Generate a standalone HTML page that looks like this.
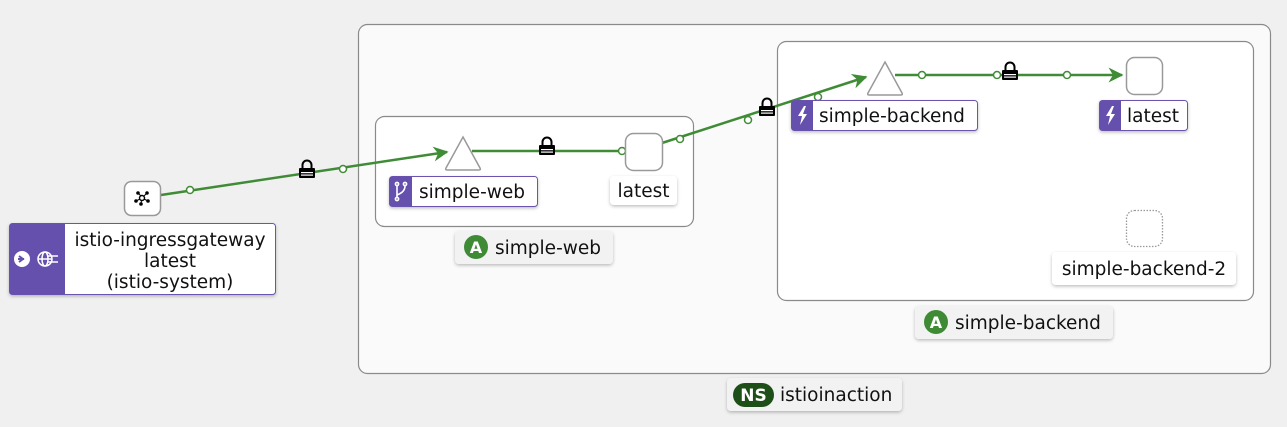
<!DOCTYPE html>
<html><head><style>
html,body{margin:0;padding:0;background:#f0f0f0;}
svg{display:block;font-family:"DejaVu Sans","Liberation Sans",sans-serif;}
</style></head><body>
<svg width="1287" height="427" viewBox="0 0 1287 427" xmlns="http://www.w3.org/2000/svg">
<defs>
<filter id="sh" x="-10%" y="-20%" width="120%" height="150%"><feDropShadow dx="0" dy="1.5" stdDeviation="1.5" flood-color="#000" flood-opacity="0.25"/></filter>
<marker id="ar" viewBox="0 0 10 10" refX="9" refY="5" markerWidth="6" markerHeight="6" orient="auto"><path d="M0,0 L10,5 L0,10 L3,5 z" fill="#3f8b36"/></marker>
</defs>
<rect width="1287" height="427" fill="#f0f0f0"/>
<rect x="358.5" y="24.5" width="912" height="349" rx="9" fill="#fafafa" stroke="#8a8a8a" stroke-width="1.2"/>
<rect x="727" y="378" width="175" height="33" rx="4" fill="#f2f2f2" filter="url(#sh)"/>
<rect x="733" y="383" width="41" height="24" rx="12" fill="#1e4f18"/>
<text x="753.5" y="401" font-size="17" font-weight="bold" fill="#fff" text-anchor="middle">NS</text>
<text x="780" y="401" font-size="18.5" fill="#111">istioinaction</text>
<rect x="375.5" y="116.5" width="318" height="110" rx="9" fill="#fff" stroke="#8a8a8a" stroke-width="1.2"/>
<rect x="455" y="231" width="158" height="33" rx="4" fill="#f2f2f2" filter="url(#sh)"/>
<circle cx="476" cy="247" r="12" fill="#3e8a35"/>
<text x="476" y="253" font-size="16" font-weight="bold" fill="#fff" text-anchor="middle">A</text>
<text x="495" y="254" font-size="18.5" fill="#111">simple-web</text>
<rect x="777.5" y="41.5" width="476" height="259" rx="9" fill="#fff" stroke="#8a8a8a" stroke-width="1.2"/>
<rect x="915" y="306" width="198" height="33" rx="4" fill="#f2f2f2" filter="url(#sh)"/>
<circle cx="936" cy="322" r="12" fill="#3e8a35"/>
<text x="936" y="328" font-size="16" font-weight="bold" fill="#fff" text-anchor="middle">A</text>
<text x="955" y="329" font-size="18.5" fill="#111">simple-backend</text>
<g stroke="#3f8b36" stroke-width="2.5" fill="none">
<line x1="161" y1="195" x2="447" y2="152" marker-end="url(#ar)"/>
<line x1="472" y1="151" x2="619" y2="151"/>
<line x1="662" y1="143" x2="866" y2="77" marker-end="url(#ar)"/>
<line x1="895" y1="75" x2="1122" y2="75" marker-end="url(#ar)"/>
</g>
<g fill="#fff" stroke="#3f8b36" stroke-width="1.5">
<circle cx="190" cy="190" r="3.5"/><circle cx="343" cy="169" r="3.5"/>
<circle cx="622" cy="151" r="3.5"/>
<circle cx="680" cy="139" r="3.5"/><circle cx="748" cy="120" r="3.5"/><circle cx="818" cy="97" r="3.5"/>
<circle cx="922" cy="75" r="3.5"/><circle cx="997" cy="75" r="3.5"/><circle cx="1067" cy="75" r="3.5"/>
</g>
<g fill="#000">
<g transform="translate(307,172)"><rect x="-8" y="-4" width="16" height="10" rx="1"/><path d="M-4.5,-4 v-3 a4.5,4.5 0 0 1 9,0 v3" stroke="#000" stroke-width="2" fill="none"/><rect x="-6" y="0" width="12" height="1.2" fill="#fff"/><rect x="-6" y="2.5" width="12" height="1.2" fill="#fff"/></g>
<g transform="translate(547,149)"><rect x="-8" y="-4" width="16" height="10" rx="1"/><path d="M-4.5,-4 v-3 a4.5,4.5 0 0 1 9,0 v3" stroke="#000" stroke-width="2" fill="none"/><rect x="-6" y="0" width="12" height="1.2" fill="#fff"/><rect x="-6" y="2.5" width="12" height="1.2" fill="#fff"/></g>
<g transform="translate(767,110)"><rect x="-8" y="-4" width="16" height="10" rx="1"/><path d="M-4.5,-4 v-3 a4.5,4.5 0 0 1 9,0 v3" stroke="#000" stroke-width="2" fill="none"/><rect x="-6" y="0" width="12" height="1.2" fill="#fff"/><rect x="-6" y="2.5" width="12" height="1.2" fill="#fff"/></g>
<g transform="translate(1010,74)"><rect x="-8" y="-4" width="16" height="10" rx="1"/><path d="M-4.5,-4 v-3 a4.5,4.5 0 0 1 9,0 v3" stroke="#000" stroke-width="2" fill="none"/><rect x="-6" y="0" width="12" height="1.2" fill="#fff"/><rect x="-6" y="2.5" width="12" height="1.2" fill="#fff"/></g>
</g>
<rect x="124.5" y="181.5" width="36" height="34" rx="7" fill="#fff" stroke="#999" stroke-width="1.5"/>
<g fill="#000" stroke="#000" stroke-width="1"><circle cx="142" cy="198" r="2.5" fill="none" stroke-width="1.4"/><circle cx="138" cy="193" r="1.3"/><circle cx="147" cy="193" r="1.3"/><circle cx="136" cy="201" r="1.3"/><circle cx="148" cy="201" r="1.3"/><circle cx="141" cy="204" r="1.3"/><line x1="138" y1="193" x2="141" y2="196"/><line x1="147" y1="193" x2="144" y2="196"/><line x1="136" y1="201" x2="140" y2="199"/><line x1="148" y1="201" x2="144" y2="199"/><line x1="141" y1="204" x2="141.5" y2="200"/></g>
<g filter="url(#sh)"><rect x="9.5" y="223.5" width="266" height="71" rx="3" fill="#fff" stroke="#6c52b0"/></g>
<path d="M12.5,223.5 h52.5 v71 h-52.5 a3,3 0 0 1 -3,-3 v-65 a3,3 0 0 1 3,-3z" fill="#6550ad"/>
<circle cx="22" cy="259" r="8" fill="#fff"/><path d="M19,256 l4,3 l-4,3 M18,259 h6" stroke="#6550ad" stroke-width="2" fill="none"/>
<g stroke="#fff" stroke-width="1.5" fill="none"><circle cx="45" cy="259" r="7"/><ellipse cx="45" cy="259" rx="3" ry="7"/><line x1="38" y1="259" x2="52" y2="259"/><line x1="48" y1="256" x2="58" y2="256"/><line x1="48" y1="262" x2="58" y2="262"/></g>
<g font-size="18.5" fill="#111" text-anchor="middle"><text x="170" y="246">istio-ingressgateway</text><text x="170" y="267">latest</text><text x="170" y="288">(istio-system)</text></g>
<path d="M463,137 L480,168 Q481,170 479,170 L447,170 Q445,170 446,168 Z" fill="#fff" stroke="#999" stroke-width="1.5"/>
<g filter="url(#sh)"><rect x="389.5" y="176.5" width="148" height="30" rx="3" fill="#fff" stroke="#6c52b0"/></g>
<path d="M392.5,176.5 h19.5 v30 h-19.5 a3,3 0 0 1 -3,-3 v-24 a3,3 0 0 1 3,-3z" fill="#6550ad"/>
<g stroke="#fff" stroke-width="1.6" fill="none"><circle cx="397" cy="184" r="1.6"/><circle cx="405" cy="184" r="1.6"/><circle cx="397" cy="199" r="1.6"/><line x1="397" y1="186" x2="397" y2="197"/><path d="M405,186 q0,6 -8,9"/></g>
<text x="419" y="198" font-size="18.5" fill="#111">simple-web</text>
<rect x="625.5" y="133.5" width="37" height="37" rx="8" fill="#fff" stroke="#999" stroke-width="1.5"/>
<rect x="610" y="176" width="67" height="29" rx="4" fill="#fff" filter="url(#sh)"/>
<text x="643.5" y="197" font-size="18.5" fill="#111" text-anchor="middle">latest</text>
<path d="M885,62 L902,93 Q903,95 901,95 L869,95 Q867,95 868,93 Z" fill="#fff" stroke="#999" stroke-width="1.5"/>
<g filter="url(#sh)"><rect x="791.5" y="100.5" width="186" height="30" rx="3" fill="#fff" stroke="#6c52b0"/></g>
<path d="M794.5,100.5 h18.5 v30 h-18.5 a3,3 0 0 1 -3,-3 v-24 a3,3 0 0 1 3,-3z" fill="#6550ad"/>
<path d="M804,106 l-6,10 h4 l-2,9 l7,-11 h-4 l3,-8z" fill="#fff"/>
<text x="819" y="122" font-size="18.5" fill="#111">simple-backend</text>
<rect x="1126.5" y="57.5" width="36" height="37" rx="8" fill="#fff" stroke="#999" stroke-width="1.5"/>
<g filter="url(#sh)"><rect x="1099.5" y="100.5" width="88" height="30" rx="3" fill="#fff" stroke="#6c52b0"/></g>
<path d="M1102.5,100.5 h18.5 v30 h-18.5 a3,3 0 0 1 -3,-3 v-24 a3,3 0 0 1 3,-3z" fill="#6550ad"/>
<path d="M1112,106 l-6,10 h4 l-2,9 l7,-11 h-4 l3,-8z" fill="#fff"/>
<text x="1127" y="122" font-size="18.5" fill="#111">latest</text>
<rect x="1126.5" y="210.5" width="36" height="36" rx="8" fill="#fff" stroke="#999" stroke-width="1.3" stroke-dasharray="1.5,1.5"/>
<rect x="1052" y="252" width="184" height="33" rx="4" fill="#fff" filter="url(#sh)"/>
<text x="1144" y="275" font-size="18.5" fill="#111" text-anchor="middle">simple-backend-2</text>
</svg>
</body></html>
